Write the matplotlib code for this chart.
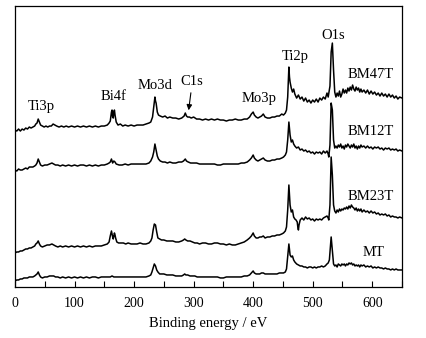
import matplotlib
matplotlib.use("Agg")
import matplotlib.pyplot as plt
from matplotlib.ticker import MultipleLocator

plt.rcParams['font.family'] = ['Liberation Serif', 'DejaVu Serif']

# (binding energy eV, intensity a.u. incl. vertical offset)
bm47t = [(0,157),(3,156),(6,158),(9,156),(12,158),(15,157),(18,159),(21,158),(24,160),(27,159),(30,160),(33,161),
         (35,163),(37,164),(39,168),(41,165),(43,162),(46,161),(49,160),(52,161),(55,160),(58,161),(61,161),(64,163),
         (67,162),(70,161),(74,160),(78,161),(82,160),(86,161),(90,160),(95,161),(100,160),(105,161),(110,160),(115,161),
         (120,160),(125,161),(130,160),(135,161),(140,160),(145,161),(150,161),(155,162),(158,164),(160,166),(162,175),
         (163,177),(164,170),(165,169),(166,175),(167,177),(168,172),(170,165),(173,162),(177,163),(181,161),(185,162),
         (190,161),(195,162),(200,161),(205,162),(210,162),(215,162),(220,163),(225,164),(228,165),(231,170),(233,180),
         (235,190),(236,186),(237,184),(239,175),(241,172),(244,171),(248,170),(252,171),(256,169),(260,170),(265,169),
         (270,169),(275,168),(280,169),(284,171),(286,174),(288,171),(290,170),(293,170),(296,169),(300,170),(305,168),
         (310,168),(315,167),(320,168),(325,167),(330,168),(335,167),(340,168),(345,167),(350,167),(355,166),(360,167),
         (365,167),(370,168),(375,167),(380,167),(385,168),(390,168),(394,170),(397,173),(400,175),(402,172),(405,170),
         (408,169),(411,170),(414,171),(417,173),(420,170),(424,169),(428,169),(432,170),(436,170),(440,171),(444,171),
         (448,173),(451,172),(454,174),(456,177),(458,190),(460,220),(461,210),(462,205),(464,199),(466,195),(468,198),
         (470,193),(473,189),(476,192),(479,188),(482,190),(485,186),(488,189),(491,185),(494,187),(497,184),(500,187),
         (503,185),(506,188),(509,185),(512,189),(515,187),(518,190),(521,188),(524,194),(526,190),(528,197),(529,201),
         (531,235),(533,244),(535,217),(537,195),(539,190),(541,194),(543,191),(545,196),(547,190),(549,193),(551,198),
         (553,194),(555,197),(557,194),(559,199),(561,196),(563,200),(565,197),(567,202),(569,198),(571,196),(573,200),
         (575,197),(577,199),(579,195),(581,198),(583,195),(586,197),(589,194),(592,197),(595,193),(598,196),(601,193),
         (604,195),(607,192),(610,194),(613,191),(616,194),(619,191),(622,193),(625,190),(628,193),(631,190),(634,192),
         (637,189),(640,191),(643,188),(646,190),(650,189)]

bm12t = [(0,117),(3,116),(6,118),(9,117),(12,117),(15,118),(18,119),(21,118),(24,120),(27,120),(30,120),(33,121),
         (35,122),(37,124),(39,128),(41,125),(43,122),(46,121),(50,122),(54,122),(58,123),(62,124),(65,123),(68,122),
         (72,122),(76,121),(80,122),(85,121),(90,122),(95,121),(100,122),(105,121),(110,122),(115,122),(120,121),(125,122),
         (130,121),(135,122),(140,121),(145,122),(150,122),(155,123),(158,124),(160,125),(162,128),(164,124),(166,126),
         (168,125),(170,123),(175,122),(180,122),(185,123),(190,122),(195,123),(200,123),(205,123),(210,123),(215,123),
         (220,123),(225,124),(228,126),(231,130),(233,135),(235,143),(237,137),(239,131),(241,128),(244,126),(248,125),
         (252,125),(256,124),(260,125),(265,124),(270,124),(275,125),(280,125),(283,126),(286,128),(288,126),(291,125),
         (295,124),(300,124),(305,124),(310,123),(315,123),(320,123),(325,123),(330,123),(335,123),(340,122),(345,122),
         (350,123),(355,123),(360,123),(365,123),(370,123),(375,123),(380,124),(385,124),(390,125),(394,127),(397,129),
         (400,132),(402,129),(405,127),(408,126),(411,127),(414,128),(417,129),(420,127),(424,126),(428,126),(432,127),
         (436,127),(440,128),(444,128),(448,129),(451,130),(454,132),(456,135),(458,147),(460,165),(461,158),(462,152),
         (464,145),(466,147),(468,143),(470,141),(473,139),(476,140),(479,137),(482,138),(485,136),(488,137),(491,135),
         (494,136),(497,134),(500,135),(503,133),(506,135),(509,134),(512,135),(515,133),(518,136),(521,134),(524,136),
         (526,133),(527,130),(529,142),(531,184),(533,177),(535,147),(537,139),(539,141),(541,139),(543,142),(545,140),
         (547,143),(549,139),(551,141),(553,138),(555,142),(557,140),(559,143),(561,141),(563,139),(565,142),(567,140),
         (569,143),(571,139),(573,141),(575,138),(577,141),(579,139),(581,142),(583,140),(586,141),(589,139),(592,141),
         (595,139),(598,140),(601,138),(604,140),(607,139),(610,140),(613,138),(616,139),(619,137),(622,139),(625,138),
         (628,139),(631,137),(634,138),(637,137),(640,138),(643,136),(646,137),(650,136)]

bm23t = [(0,34),(3,35),(6,35),(9,36),(12,36),(15,37),(18,38),(21,38),(24,39),(27,39),(30,40),(33,41),(35,43),(37,44),
         (39,46),(41,43),(43,41),(46,40),(50,41),(54,42),(58,42),(62,43),(65,42),(68,41),(72,40),(76,41),(80,40),(85,41),
         (90,40),(95,41),(100,40),(105,41),(110,40),(115,41),(120,40),(125,41),(130,40),(135,41),(140,41),(145,41),
         (150,42),(155,43),(158,45),(160,51),(162,56),(163,53),(164,50),(165,48),(167,54),(168,52),(169,49),(171,45),
         (174,44),(178,44),(182,44),(186,43),(190,44),(195,43),(200,43),(205,43),(210,44),(215,43),(220,43),(225,44),
         (228,46),(230,49),(232,57),(234,63),(236,62),(238,55),(240,49),(243,48),(246,47),(250,47),(255,46),(260,46),
         (265,46),(270,45),(275,45),(280,46),(283,47),(285,48),(287,47),(290,46),(294,46),(298,45),(302,44),(306,44),
         (310,43),(315,44),(320,44),(325,43),(330,43),(335,44),(340,44),(345,43),(350,43),(355,42),(360,43),(365,42),
         (370,42),(375,43),(380,44),(385,45),(390,47),(394,49),(397,51),(400,54),(402,51),(405,49),(408,49),(411,50),
         (414,50),(417,51),(420,49),(424,50),(428,50),(432,51),(436,51),(440,52),(444,52),(448,53),(451,54),(454,56),
         (456,60),(458,77),(460,102),(461,92),(462,82),(464,75),(466,77),(468,70),(470,68),(472,67),(474,65),(475,60),
         (476,57),(477,62),(479,67),(482,69),(485,67),(488,70),(491,68),(494,69),(497,67),(500,68),(503,66),(506,68),
         (509,67),(512,68),(515,67),(518,69),(521,70),(524,71),(526,69),(527,67),(529,82),(531,130),(533,112),(535,82),
         (537,76),(539,74),(541,77),(543,75),(545,78),(547,76),(549,78),(551,77),(553,79),(555,78),(557,80),(559,78),
         (561,81),(563,79),(565,82),(567,80),(569,79),(571,77),(573,79),(575,76),(577,78),(579,76),(581,78),(583,75),
         (586,77),(589,75),(592,76),(595,74),(598,76),(601,74),(604,75),(607,73),(610,74),(613,72),(616,73),(619,72),
         (622,73),(625,71),(628,72),(631,70),(634,71),(637,70),(640,70),(643,69),(646,70),(650,69)]

mt = [(0,6),(3,7),(6,7),(9,8),(12,8),(15,9),(18,9),(21,9),(24,10),(27,10),(30,10),(33,11),(35,12),(37,13),(39,15),
      (41,12),(43,10),(46,9),(50,10),(54,10),(58,11),(62,11),(65,11),(68,10),(72,10),(76,9),(80,10),(85,9),(90,10),
      (95,9),(100,10),(105,9),(110,10),(115,9),(120,10),(125,9),(130,10),(135,10),(140,9),(145,10),(150,10),(155,10),
      (160,10),(163,11),(166,10),(170,10),(175,10),(180,10),(185,10),(190,10),(195,10),(200,10),(205,10),(210,10),
      (215,10),(220,10),(225,11),(228,12),(230,15),(232,19),(234,23),(236,21),(238,17),(240,15),(243,13),(246,13),
      (250,13),(255,12),(260,12),(265,12),(270,11),(275,11),(280,11),(283,12),(285,13),(287,12),(290,12),(294,11),
      (298,11),(302,11),(306,10),(310,10),(315,10),(320,10),(325,10),(330,10),(335,10),(340,10),(345,9),(350,9),
      (355,10),(360,10),(365,10),(370,10),(375,10),(380,10),(385,11),(390,11),(394,12),(397,14),(400,16),(402,14),
      (405,13),(408,13),(411,13),(414,14),(417,14),(420,13),(424,13),(428,13),(432,13),(436,13),(440,13),(444,14),
      (448,14),(451,14),(454,15),(456,18),(458,30),(460,43),(461,37),(462,32),(464,30),(466,31),(468,27),(470,25),
      (473,23),(476,22),(479,21),(482,21),(485,20),(488,20),(491,19),(494,20),(497,20),(500,19),(503,20),(506,19),
      (509,20),(512,20),(515,21),(518,20),(521,21),(524,23),(526,24),(528,27),(529,35),(531,50),(533,37),(535,23),
      (537,21),(539,22),(541,20),(543,23),(545,22),(547,21),(549,23),(551,22),(553,23),(555,21),(557,23),(559,22),
      (561,24),(563,23),(565,24),(567,22),(569,23),(571,21),(573,22),(575,21),(577,22),(579,20),(581,22),(583,21),
      (586,22),(589,20),(592,21),(595,20),(598,21),(601,19),(604,20),(607,19),(610,20),(613,19),(616,19),(619,18),
      (622,19),(625,18),(628,18),(631,17),(634,18),(637,17),(640,18),(643,17),(646,17),(650,17)]

series = [bm47t, bm12t, bm23t, mt]
series_names = ["BM47T", "BM12T", "BM23T", "MT"]
series_label_pos = [(597, 213), (598, 156), (598, 91), (603, 34)]

peak_names = ["Ti3p", "Bi4f", "Mo3d", "C1s", "Mo3p", "Ti2p", "O1s"]
peak_label_pos = [(44, 181), (166, 191), (235, 202), (297, 206), (410, 189), (471, 231), (534, 252)]

fig = plt.figure(figsize=(4.26, 3.38), dpi=100)
ax = fig.add_axes([0.0352, 0.151, 0.9085, 0.831])

for s in series:
    e, i = zip(*s)
    ax.plot(e, i, color='black', lw=1.1)

for name, (x, y) in zip(series_names, series_label_pos):
    ax.text(x, y, name, ha='center', va='center', fontsize=10.5)

for name, (x, y) in zip(peak_names, peak_label_pos):
    ax.text(x, y, name, ha='center', va='center', fontsize=10.5)

ax.annotate("", xy=(291, 174), xytext=(296, 197),
            arrowprops=dict(arrowstyle='-|>', color='black', lw=0.8, mutation_scale=8))

ax.set_xlim(0, 650)
ax.set_ylim(0, 281)
ax.set_yticks([])
ax.xaxis.set_major_locator(MultipleLocator(100))
ax.xaxis.set_minor_locator(MultipleLocator(50))
ax.tick_params(axis='x', which='both', direction='in', length=4, width=0.8, labelsize=10, pad=7.5)
for sp in ax.spines.values():
    sp.set_linewidth(0.9)
ax.set_xlabel("Binding energy / eV", fontsize=10.5, labelpad=5)

fig.savefig("out.png", dpi=100)
